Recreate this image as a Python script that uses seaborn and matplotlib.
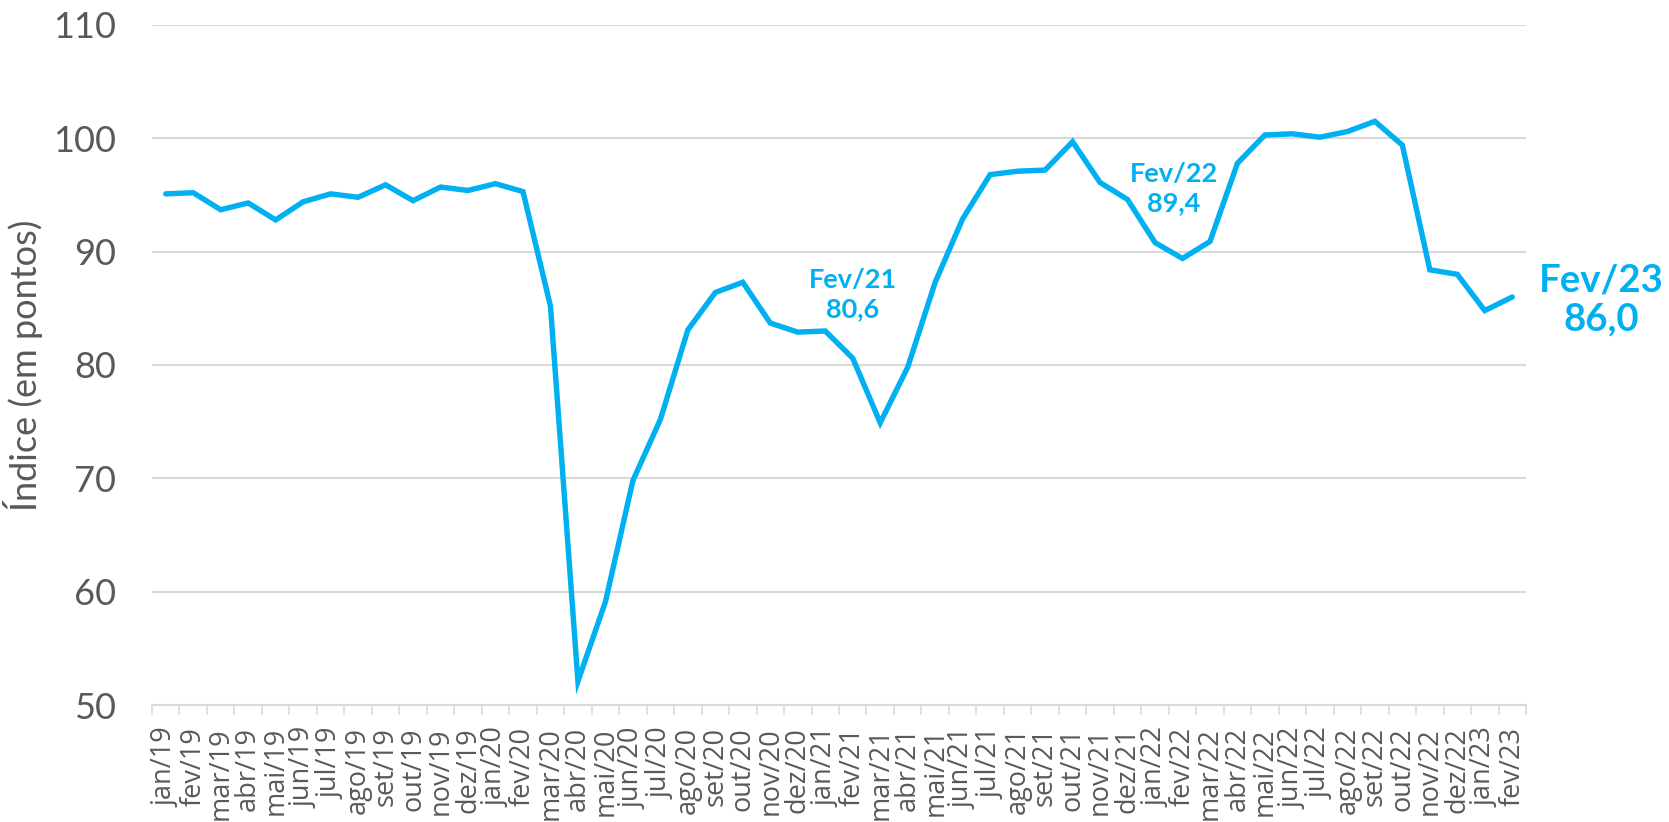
import numpy as np
import pandas as pd
import matplotlib
matplotlib.use("Agg")
import matplotlib.pyplot as plt
import seaborn as sns
from matplotlib.ticker import FixedLocator

months = ["jan/19", "fev/19", "mar/19", "abr/19", "mai/19", "jun/19", "jul/19", "ago/19", "set/19", "out/19", "nov/19", "dez/19",
          "jan/20", "fev/20", "mar/20", "abr/20", "mai/20", "jun/20", "jul/20", "ago/20", "set/20", "out/20", "nov/20", "dez/20",
          "jan/21", "fev/21", "mar/21", "abr/21", "mai/21", "jun/21", "jul/21", "ago/21", "set/21", "out/21", "nov/21", "dez/21",
          "jan/22", "fev/22", "mar/22", "abr/22", "mai/22", "jun/22", "jul/22", "ago/22", "set/22", "out/22", "nov/22", "dez/22",
          "jan/23", "fev/23"]
values = [95.1, 95.2, 93.7, 94.3, 92.8, 94.4, 95.1, 94.8, 95.9, 94.5, 95.7, 95.4,
          96.0, 95.3, 85.2, 52.1, 59.1, 69.8, 75.2, 83.1, 86.4, 87.3, 83.7, 82.9,
          83.0, 80.6, 74.9, 79.8, 87.3, 92.9, 96.8, 97.1, 97.2, 99.7, 96.1, 94.6,
          90.8, 89.4, 90.9, 97.8, 100.3, 100.4, 100.1, 100.6, 101.5, 99.4, 88.4, 88.0,
          84.8, 86.0]
y_ticks = [50, 60, 70, 80, 90, 100, 110]
highlights = [("Fev/21", "80,6", 25), ("Fev/22", "89,4", 37), ("Fev/23", "86,0", 49)]

BLUE = "#00B0F0"
GRAY = "#595959"
GRID = "#d9d9d9"

sns.set_theme(style="white")
plt.rcParams['font.family'] = ['Lato', 'DejaVu Sans']

df = pd.DataFrame({"idx": np.arange(len(months)), "valor": values})

fig = plt.figure(figsize=(16.69, 8.22), dpi=100)
ax = fig.add_axes([152/1669, 1 - 705/822, (1526 - 152)/1669, (705 - 25)/822])

sns.lineplot(data=df, x="idx", y="valor", ax=ax, color=BLUE, linewidth=3.9,
             solid_joinstyle="miter", zorder=3)

ax.set_xlim(-0.5, len(months) - 0.5)
ax.set_ylim(50, 110)
ax.set_yticks(y_ticks)
ax.set_yticklabels([str(v) for v in y_ticks], fontsize=26, color=GRAY)
ax.tick_params(axis="y", length=0, pad=26)

ax.set_xticks(np.arange(len(months)))
ax.set_xticklabels(months, rotation=90, fontsize=19.5, color=GRAY,
                   family=["Open Sans", "DejaVu Sans"])
ax.tick_params(axis="x", which="major", length=0, pad=16)
ax.xaxis.set_minor_locator(FixedLocator(np.arange(-0.5, len(months), 1.0)))
ax.tick_params(axis="x", which="minor", length=7.2, width=1.1, color=GRID, bottom=True)

ax.grid(axis="y", color=GRID, linewidth=1.5, zorder=0)
ax.grid(axis="x", visible=False)
for s in ["left", "right", "top"]:
    ax.spines[s].set_visible(False)
ax.spines["bottom"].set_color(GRID)
ax.spines["bottom"].set_linewidth(1.5)

ax.set_xlabel("")
ax.set_ylabel("Índice (em pontos)", fontsize=26, color=GRAY)
ax.yaxis.set_label_coords(-0.0794, 0.5)

offsets = {25: (0, 64, 19.5, 1.25), 37: (-9, 70, 19.5, 1.25), 49: (89, -3, 27.5, 1.15)}
for name, val_txt, i in highlights:
    dx, dy, fs, ls = offsets[i]
    ax.annotate(f"{name}\n{val_txt}", xy=(i, values[i]), xytext=(dx, dy),
                textcoords="offset pixels", ha="center", va="center",
                fontsize=fs, fontweight="bold", color=BLUE,
                linespacing=ls, annotation_clip=False)

fig.savefig("out.png", dpi=100, facecolor="white")
